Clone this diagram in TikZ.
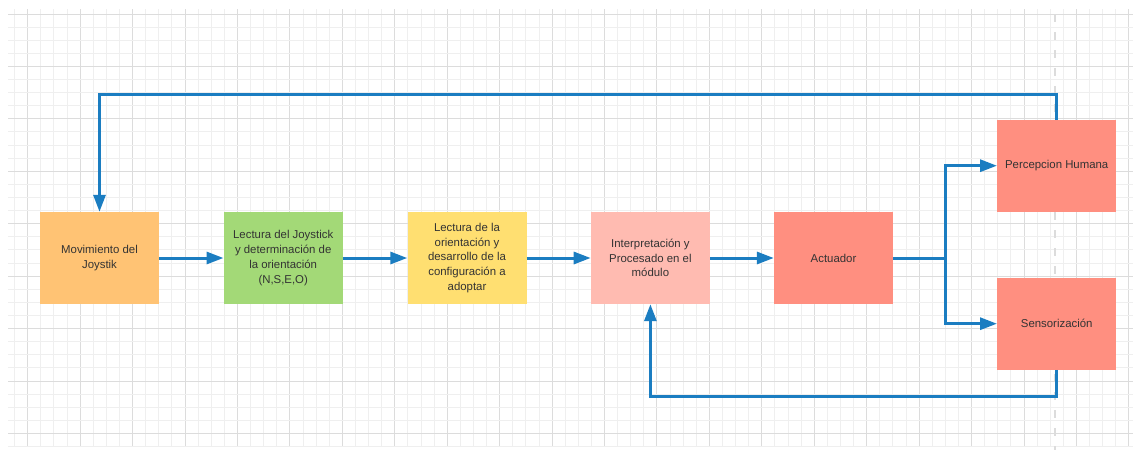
\documentclass[tikz,border=0pt]{standalone}
\usepackage{fontspec}
\setmainfont{Liberation Sans}
\usetikzlibrary{arrows.meta}
\definecolor{gminor}{HTML}{EFEFEF}
\definecolor{gmajor}{HTML}{DCDCDC}
\definecolor{flow}{HTML}{1B7DC1}
\definecolor{corange}{HTML}{FFC374}
\definecolor{cgreen}{HTML}{A3D977}
\definecolor{cyellow}{HTML}{FFDF71}
\definecolor{cpink}{HTML}{FFBBB1}
\definecolor{cred}{HTML}{FF8F80}
\definecolor{txt}{HTML}{333333}
\tikzset{
  box/.style={minimum width=119pt, minimum height=92pt, inner sep=0pt, align=center,
    text=txt, font=\fontsize{11.4}{14.8}\selectfont},
  flowline/.style={draw=flow, line width=3pt, -{Triangle[length=17pt,width=12pt]}},
  flowplain/.style={draw=flow, line width=3pt},
}
\begin{document}
\begin{tikzpicture}[x=1pt,y=-1pt]
\useasboundingbox (0,0) rectangle (1137,450);
\fill[white] (0,0) rectangle (1137,450);
% grid
\foreach \i in {0,...,85} {
  \pgfmathsetmacro{\xx}{14.6+13.11*\i}
  \pgfmathtruncatemacro{\m}{mod(\i,4)}
  \ifnum\m=1
    \draw[gmajor, line width=1pt] (\xx,9) -- (\xx,447);
  \else
    \draw[gminor, line width=1pt] (\xx,9) -- (\xx,447);
  \fi
}
\foreach \j in {0,...,33} {
  \pgfmathsetmacro{\yy}{14+13.11*\j}
  \pgfmathtruncatemacro{\m}{mod(\j,4)}
  \ifnum\m=0
    \draw[gmajor, line width=1pt] (8,\yy) -- (1133,\yy);
  \else
    \draw[gminor, line width=1pt] (8,\yy) -- (1133,\yy);
  \fi
}
% dashed vertical guide
\draw[gmajor, line width=2.5pt, dash pattern=on 8pt off 10pt] (1055,14) -- (1055,450);
% boxes
\node[box, fill=corange] (mov) at (99.5,258) {Movimiento del\\Joystik};
\node[box, fill=cgreen] (lec) at (283.2,258) {Lectura del Joystick\\y determinación de\\la orientación\\(N,S,E,O)};
\node[box, fill=cyellow] (ori) at (467,258) {Lectura de la\\orientación y\\desarrollo de la\\configuración a\\adoptar};
\node[box, fill=cpink] (int) at (650.4,258) {Interpretación y\\Procesado en el\\módulo};
\node[box, fill=cred] (act) at (833.5,258) {Actuador};
\node[box, fill=cred] (per) at (1056.7,165.7) {Percepcion Humana};
\node[box, fill=cred] (sen) at (1056.7,323.7) {Sensorización};
\coordinate (split) at (945,258);
\coordinate (topy) at (0,94);
\coordinate (boty) at (0,396);
% connectors
\draw[flowline] (mov) -- (lec);
\draw[flowline] (lec) -- (ori);
\draw[flowline] (ori) -- (int);
\draw[flowline] (int) -- (act);
\draw[flowplain] (act.east) -- (split);
\draw[flowline] (split) |- (per.west);
\draw[flowline] (split) |- (sen.west);
\draw[flowline] (per.north) -- (per.north |- topy) -- (mov.north |- topy) -- (mov.north);
\draw[flowline] (sen.south) -- (sen.south |- boty) -- (int.south |- boty) -- (int.south);
\end{tikzpicture}
\end{document}
